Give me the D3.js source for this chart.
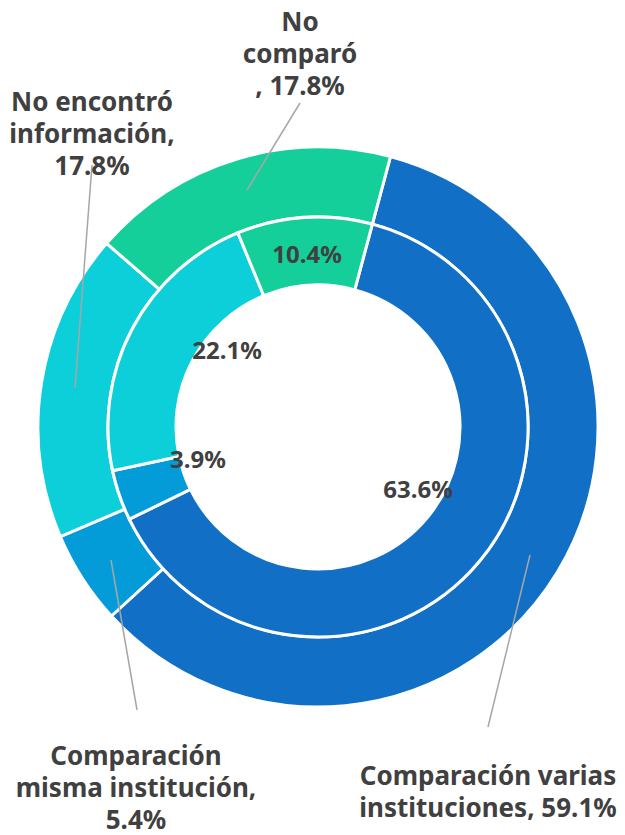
<!DOCTYPE html>
<html>
<head>
<meta charset="utf-8">
<script src="https://cdn.jsdelivr.net/npm/d3@7"></script>
<style>
  body { margin: 0; background: #fff; }
  text { font-family: "Noto Sans", "DejaVu Sans", sans-serif; font-weight: 700; fill: #404040; }
</style>
</head>
<body>
<div id="chart"></div>
<script>
// chart size
var width = 625, height = 835;
var cx = 318, cy = 427;

// data
var categories = ["Comparación varias instituciones", "Comparación misma institución", "No encontró información", "No comparó"];
var outerValues = [59.1, 5.4, 17.8, 17.8];
var innerValues = [63.6, 3.9, 22.1, 10.4];
var colors = ["#1170c6", "#049cd8", "#0ccfda", "#14cf9a"];

// outer label text lines and where they sit
var outerLabelLines = [
  ["Comparación varias", "instituciones, 59.1%"],
  ["Comparación", "misma institución,", "5.4%"],
  ["No encontró", "información,", "17.8%"],
  ["No", "comparó", ", 17.8%"]
];
var outerLabelPos = [[488, 775], [136, 755], [92, 101], [300, 21]];
// leader lines: [from label, to slice]
var leaderLines = [
  [[530, 555], [488, 727]],
  [[111, 560], [137, 710]],
  [[92, 165], [75, 388]],
  [[300, 103], [247, 190]]
];
// inner labels (moved by hand in the original)
var innerLabelPos = [[418, 488], [198, 458], [227, 349], [307, 253]];

var svg = d3.select("#chart")
  .append("svg")
  .attr("width", width)
  .attr("height", height);

var g = svg.append("g")
  .attr("transform", "translate(" + cx + "," + cy + ")");

var start = 15 * Math.PI / 180;
var pie = d3.pie().sort(null).value(function (d) { return d; })
  .startAngle(start).endAngle(start + 2 * Math.PI);

var outerArc = d3.arc().innerRadius(210).outerRadius(280);
var innerArc = d3.arc().innerRadius(142).outerRadius(210);

// outer ring
g.selectAll(".outer")
  .data(pie(outerValues))
  .enter()
  .append("path")
  .attr("class", "outer")
  .attr("d", outerArc)
  .style("fill", function (d, i) { return colors[i]; })
  .style("stroke", "#fff")
  .style("stroke-width", 3);

// inner ring
g.selectAll(".inner")
  .data(pie(innerValues))
  .enter()
  .append("path")
  .attr("class", "inner")
  .attr("d", innerArc)
  .style("fill", function (d, i) { return colors[i]; })
  .style("stroke", "#fff")
  .style("stroke-width", 3);

// leader lines
svg.selectAll(".leader")
  .data(leaderLines)
  .enter()
  .append("line")
  .attr("class", "leader")
  .attr("x1", function (d) { return d[0][0]; })
  .attr("y1", function (d) { return d[0][1]; })
  .attr("x2", function (d) { return d[1][0]; })
  .attr("y2", function (d) { return d[1][1]; })
  .style("stroke", "#a6a6a6")
  .style("stroke-width", 1.5);

// outer labels
outerLabelLines.forEach(function (lines, i) {
  var t = svg.append("text")
    .attr("x", outerLabelPos[i][0])
    .attr("y", outerLabelPos[i][1])
    .attr("text-anchor", "middle")
    .attr("dominant-baseline", "central")
    .style("font-size", "26px");
  lines.forEach(function (line, j) {
    t.append("tspan")
      .attr("x", outerLabelPos[i][0])
      .attr("dy", j === 0 ? 0 : 32)
      .text(line);
  });
});

// inner labels
svg.selectAll(".innerLabel")
  .data(innerValues)
  .enter()
  .append("text")
  .attr("class", "innerLabel")
  .attr("x", function (d, i) { return innerLabelPos[i][0]; })
  .attr("y", function (d, i) { return innerLabelPos[i][1]; })
  .attr("text-anchor", "middle")
  .attr("dominant-baseline", "central")
  .style("font-size", "24px")
  .text(function (d) { return d.toFixed(1) + "%"; });
</script>
</body>
</html>
